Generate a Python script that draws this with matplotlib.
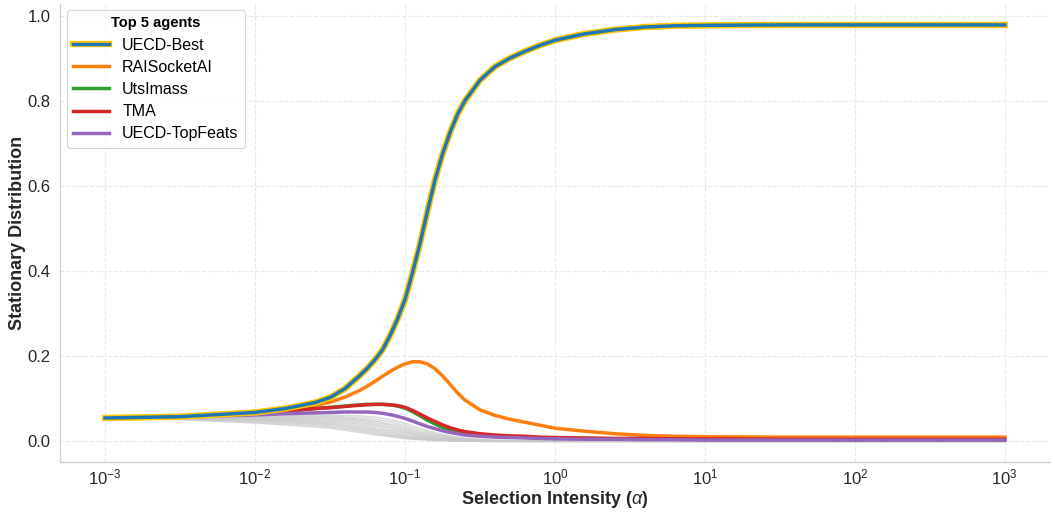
import matplotlib
matplotlib.use("Agg")
import matplotlib.pyplot as plt
import matplotlib.patheffects as pe

# selection intensity grid for the top-5 agents (x values)
alpha = [0.001, 0.00316, 0.01, 0.0158, 0.0251, 0.0316, 0.0398, 0.0501, 0.0562, 0.0631,
         0.0708, 0.0794, 0.0891, 0.1, 0.112, 0.126, 0.141, 0.158, 0.178, 0.2,
         0.224, 0.251, 0.316, 0.398, 0.501, 0.631, 0.794, 1.0, 1.58, 2.51,
         3.98, 6.31, 10.0, 31.6, 100.0, 1000.0]

# coarser grid for the remaining agents
alpha_others = [0.001, 0.00316, 0.01, 0.02, 0.0316, 0.0398, 0.0501, 0.0631, 0.0794, 0.1,
                0.126, 0.158, 0.2, 0.251, 0.316, 0.398, 0.501, 0.631, 0.794, 1.0,
                1.58, 3.16, 5.01, 10.0, 31.6, 100.0, 1000.0]

top_names = ["UECD-Best", "RAISocketAI", "UtsImass", "TMA", "UECD-TopFeats"]
top_colors = ["#1f77b4", "#ff7f0e", "#2ca02c", "#d62728", "#9467bd"]

uecd_best = [0.055, 0.058, 0.068, 0.077, 0.091, 0.103, 0.124, 0.155, 0.172, 0.192,
             0.215, 0.248, 0.287, 0.333, 0.395, 0.465, 0.540, 0.612, 0.675, 0.726,
             0.768, 0.800, 0.848, 0.880, 0.900, 0.916, 0.930, 0.942, 0.957, 0.967,
             0.973, 0.976, 0.977, 0.978, 0.978, 0.978]
raisocketai = [0.055, 0.057, 0.064, 0.072, 0.084, 0.092, 0.104, 0.120, 0.130, 0.141,
               0.153, 0.164, 0.174, 0.182, 0.187, 0.187, 0.182, 0.171, 0.154, 0.134,
               0.114, 0.097, 0.074, 0.061, 0.052, 0.045, 0.038, 0.031, 0.024, 0.018,
               0.014, 0.012, 0.011, 0.010, 0.010, 0.010]
utsimass = [0.055, 0.058, 0.065, 0.071, 0.077, 0.080, 0.083, 0.086, 0.087, 0.087,
            0.087, 0.086, 0.083, 0.078, 0.070, 0.060, 0.050, 0.041, 0.033, 0.027,
            0.022, 0.019, 0.015, 0.013, 0.011, 0.010, 0.009, 0.008, 0.007, 0.006,
            0.006, 0.005, 0.005, 0.004, 0.004, 0.004]
tma = [0.055, 0.058, 0.065, 0.071, 0.077, 0.079, 0.082, 0.085, 0.086, 0.087,
       0.087, 0.086, 0.084, 0.080, 0.073, 0.064, 0.055, 0.047, 0.039, 0.032,
       0.027, 0.023, 0.018, 0.015, 0.013, 0.012, 0.010, 0.009, 0.008, 0.007,
       0.007, 0.006, 0.006, 0.005, 0.005, 0.005]
uecd_topfeats = [0.055, 0.057, 0.062, 0.065, 0.067, 0.068, 0.069, 0.069, 0.069, 0.068,
                 0.066, 0.063, 0.059, 0.054, 0.048, 0.041, 0.035, 0.030, 0.025, 0.021,
                 0.018, 0.015, 0.012, 0.010, 0.009, 0.008, 0.007, 0.006, 0.005, 0.005,
                 0.004, 0.004, 0.003, 0.003, 0.003, 0.003]

others = [
    [0.055, 0.057, 0.060, 0.062, 0.062, 0.061, 0.060, 0.057, 0.051, 0.042, 0.031, 0.021, 0.013, 0.008, 0.005, 0.003, 0.002, 0.002, 0.001, 0.001, 0.001, 0.001, 0.001, 0.001, 0.001, 0.001, 0.001],
    [0.055, 0.056, 0.058, 0.060, 0.059, 0.058, 0.056, 0.052, 0.046, 0.037, 0.027, 0.018, 0.011, 0.006, 0.004, 0.002, 0.002, 0.001, 0.001, 0.001, 0.001, 0.001, 0.001, 0.000, 0.000, 0.000, 0.000],
    [0.055, 0.056, 0.057, 0.058, 0.057, 0.055, 0.052, 0.048, 0.041, 0.033, 0.023, 0.015, 0.009, 0.005, 0.003, 0.002, 0.001, 0.001, 0.001, 0.001, 0.000, 0.000, 0.000, 0.000, 0.000, 0.000, 0.000],
    [0.055, 0.055, 0.056, 0.056, 0.055, 0.053, 0.050, 0.045, 0.038, 0.029, 0.020, 0.013, 0.008, 0.004, 0.002, 0.001, 0.001, 0.001, 0.000, 0.000, 0.000, 0.000, 0.000, 0.000, 0.000, 0.000, 0.000],
    [0.055, 0.055, 0.055, 0.054, 0.052, 0.050, 0.047, 0.041, 0.034, 0.026, 0.017, 0.011, 0.006, 0.003, 0.002, 0.001, 0.001, 0.000, 0.000, 0.000, 0.000, 0.000, 0.000, 0.000, 0.000, 0.000, 0.000],
    [0.055, 0.055, 0.054, 0.052, 0.050, 0.047, 0.043, 0.038, 0.031, 0.023, 0.015, 0.009, 0.005, 0.003, 0.002, 0.001, 0.001, 0.000, 0.000, 0.000, 0.000, 0.000, 0.000, 0.000, 0.000, 0.000, 0.000],
    [0.055, 0.054, 0.053, 0.050, 0.047, 0.044, 0.040, 0.034, 0.027, 0.020, 0.013, 0.008, 0.004, 0.002, 0.001, 0.001, 0.000, 0.000, 0.000, 0.000, 0.000, 0.000, 0.000, 0.000, 0.000, 0.000, 0.000],
    [0.055, 0.054, 0.052, 0.048, 0.045, 0.041, 0.036, 0.030, 0.024, 0.017, 0.011, 0.006, 0.003, 0.002, 0.001, 0.001, 0.000, 0.000, 0.000, 0.000, 0.000, 0.000, 0.000, 0.000, 0.000, 0.000, 0.000],
    [0.055, 0.054, 0.050, 0.046, 0.042, 0.038, 0.033, 0.027, 0.021, 0.014, 0.009, 0.005, 0.003, 0.001, 0.001, 0.000, 0.000, 0.000, 0.000, 0.000, 0.000, 0.000, 0.000, 0.000, 0.000, 0.000, 0.000],
    [0.055, 0.053, 0.049, 0.044, 0.040, 0.035, 0.030, 0.024, 0.018, 0.012, 0.007, 0.004, 0.002, 0.001, 0.001, 0.000, 0.000, 0.000, 0.000, 0.000, 0.000, 0.000, 0.000, 0.000, 0.000, 0.000, 0.000],
    [0.055, 0.053, 0.047, 0.042, 0.037, 0.032, 0.027, 0.021, 0.015, 0.010, 0.006, 0.003, 0.002, 0.001, 0.000, 0.000, 0.000, 0.000, 0.000, 0.000, 0.000, 0.000, 0.000, 0.000, 0.000, 0.000, 0.000],
    [0.055, 0.052, 0.045, 0.039, 0.034, 0.029, 0.024, 0.018, 0.013, 0.008, 0.005, 0.003, 0.001, 0.001, 0.000, 0.000, 0.000, 0.000, 0.000, 0.000, 0.000, 0.000, 0.000, 0.000, 0.000, 0.000, 0.000],
    [0.055, 0.051, 0.043, 0.036, 0.031, 0.026, 0.021, 0.015, 0.011, 0.006, 0.004, 0.002, 0.001, 0.000, 0.000, 0.000, 0.000, 0.000, 0.000, 0.000, 0.000, 0.000, 0.000, 0.000, 0.000, 0.000, 0.000],
]

plt.rcParams["font.family"] = ["Liberation Sans", "DejaVu Sans"]
plt.rcParams["mathtext.fontset"] = "custom"
plt.rcParams["mathtext.rm"] = "Liberation Sans"
plt.rcParams["mathtext.it"] = "Liberation Sans:italic"

fig = plt.figure(figsize=(10.55, 5.13), dpi=100)
ax = fig.add_axes([0.057, 0.099, 0.938, 0.893])

for s in others:
    ax.plot(alpha_others, s, color="#c8c8c8", lw=1.0, alpha=0.7, zorder=2)

series = [uecd_best, raisocketai, utsimass, tma, uecd_topfeats]
order = [1, 2, 3, 4, 0]
handles = {}
for i in order:
    if i == 0:
        ln, = ax.plot(alpha, series[i], color=top_colors[i], lw=2.5, zorder=10,
                      label=top_names[i],
                      path_effects=[pe.Stroke(linewidth=4.6, foreground="#FFC800"), pe.Normal()])
    else:
        ln, = ax.plot(alpha, series[i], color=top_colors[i], lw=2.5, zorder=5 + i,
                      label=top_names[i])
    handles[i] = ln

ax.set_xscale("log")
ax.minorticks_off()
ax.set_xticks([1e-3, 1e-2, 1e-1, 1e0, 1e1, 1e2, 1e3])
ax.set_yticks([0.0, 0.2, 0.4, 0.6, 0.8, 1.0])
ax.set_yticklabels(["0.0", "0.2", "0.4", "0.6", "0.8", "1.0"])
ax.tick_params(axis="y", length=0, labelsize=12, colors="#262626", pad=7)
ax.tick_params(axis="x", length=0, labelsize=12, colors="#262626", pad=4)

ax.grid(True, which="major", linestyle="--", color="#e8e8e8", linewidth=0.8)
ax.set_axisbelow(True)
ax.set_facecolor("white")
for sp in ["top", "right"]:
    ax.spines[sp].set_visible(False)
for sp in ["left", "bottom"]:
    ax.spines[sp].set_color("#d0d0d0")
    ax.spines[sp].set_linewidth(1.0)

ax.set_xlabel(r"Selection Intensity ($\alpha$)", fontsize=13, fontweight="bold", color="#262626", labelpad=1)
ax.set_ylabel("Stationary Distribution", fontsize=13, fontweight="bold", color="#262626", labelpad=1)

leg = ax.legend([handles[i] for i in range(5)], top_names, title="Top 5 agents",
                loc="upper left", fontsize=11.5, title_fontsize=10.5, frameon=True,
                fancybox=True, edgecolor="#cccccc", borderpad=0.4, handlelength=2.25,
                labelspacing=0.45, borderaxespad=0.0,
                bbox_to_anchor=(0.007, 0.987))
leg.get_title().set_fontweight("bold")
leg.get_frame().set_linewidth(0.8)

fig.savefig("out.png", dpi=100)
